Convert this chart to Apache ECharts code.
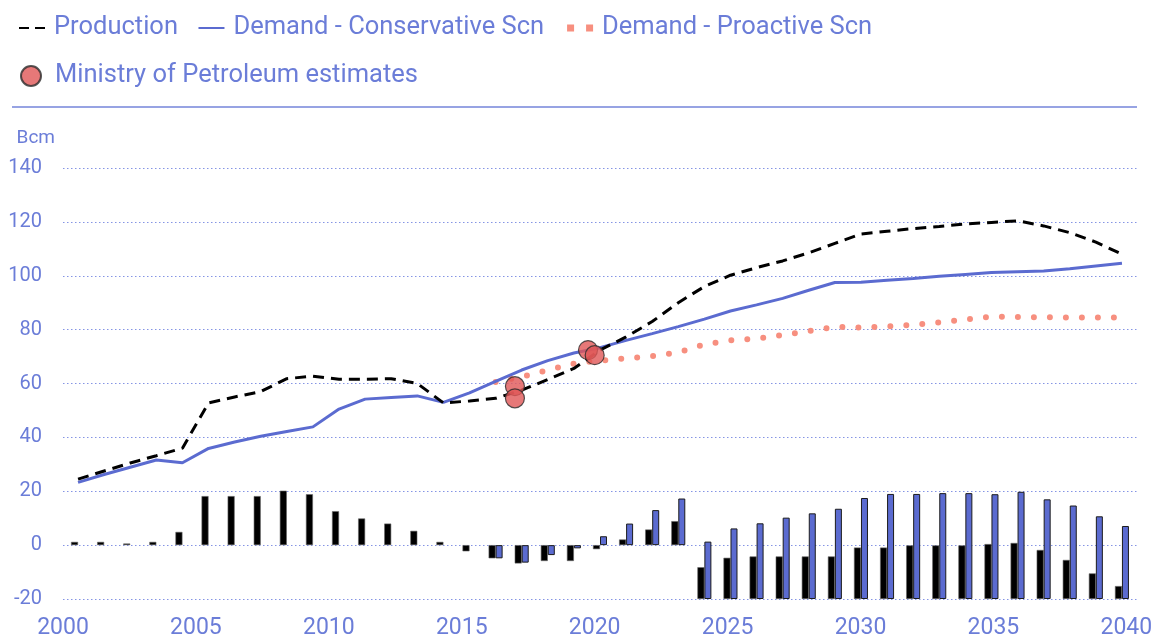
<!DOCTYPE html>
<html>
<head>
<meta charset="utf-8">
<script src="https://cdn.jsdelivr.net/npm/echarts@6.0.0/dist/echarts.min.js"></script>
<style>
  html, body { margin: 0; padding: 0; background: #fff; }
  #chart { width: 1158px; height: 641px; }
</style>
</head>
<body>
<div id="chart"></div>
<script>
// years on the x axis
var years = ['2000','2001','2002','2003','2004','2005','2006','2007','2008','2009',
  '2010','2011','2012','2013','2014','2015','2016','2017','2018','2019',
  '2020','2021','2022','2023','2024','2025','2026','2027','2028','2029',
  '2030','2031','2032','2033','2034','2035','2036','2037','2038','2039','2040']

// Bcm
var production = [24.5, 27.5, 30.5, 33.2, 36, 52.8, 55, 57, 61.8, 62.7,
  61.6, 61.6, 61.8, 60, 52.8, 53.5, 54.5, 57.5, 61.5, 65.6,
  72.4, 77.3, 83, 90, 96, 100.2, 103, 105.5, 108.5, 112,
  115.5, 116.5, 117.5, 118.3, 119.2, 119.8, 120.4, 118.5, 116, 112.5, 108]

var demandConservative = [23.3, 26.2, 28.9, 31.6, 30.6, 35.9, 38.3, 40.4, 42.2, 43.9,
  50.5, 54.2, 54.8, 55.4, 53, 56.5, 60.8, 65, 68.5, 71.3,
  73.3, 76, 78.5, 81.1, 83.9, 86.9, 89.2, 91.6, 94.6, 97.5,
  97.6, 98.3, 99, 99.8, 100.5, 101.2, 101.5, 101.8, 102.6, 103.6, 104.6]

var demandProactive = [null, null, null, null, null, null, null, null, null, null,
  null, null, null, null, null, null, 60.6, 62.5, 65, 67.4,
  68.5, 69.3, 70.2, 71.5, 74.5, 76, 76.6, 78, 79.5, 81,
  80.8, 81.2, 81.8, 82.7, 83.8, 84.8, 84.7, 84.6, 84.5, 84.5, 84.5]

// [year, Bcm]
var ministryEstimates = [[2017, 59.0], [2017, 54.5], [2019.75, 72.4], [2020, 70.5]]

// balance bars, historic part (main axis, zero baseline)
var gapConservativeHist = [1.2, 1.2, 0.6, 1.2, 4.9, 18.2, 18.2, 18.2, 20.2, 18.9,
  12.6, 9.9, 8.0, 5.3, 1.2, -2.3, -4.9, -6.8, -5.9, -5.9,
  -1.5, 2.1, 5.8, 8.9, null, null, null, null, null, null,
  null, null, null, null, null, null, null, null, null, null, null]
var gapProactiveHist = [null, null, null, null, null, null, null, null, null, null,
  null, null, null, null, null, null, -4.9, -6.5, -3.7, -1.2,
  3.3, 8.0, 13.0, 17.3, null, null, null, null, null, null,
  null, null, null, null, null, null, null, null, null, null, null]

// balance bars, outlook part (secondary axis, drawn from the bottom)
var gapConservativeProj = [null, null, null, null, null, null, null, null, null, null,
  null, null, null, null, null, null, null, null, null, null,
  null, null, null, null, 11.8, 15.3, 15.8, 15.8, 15.8, 15.8,
  19.1, 19.1, 19.9, 19.9, 19.9, 20.4, 20.8, 18.2, 14.5, 9.5, 4.8]
var gapProactiveProj = [null, null, null, null, null, null, null, null, null, null,
  null, null, null, null, null, null, null, null, null, null,
  null, null, null, null, 21.3, 26.2, 28.1, 30.2, 31.8, 33.5,
  37.5, 39.0, 39.0, 39.3, 39.3, 38.9, 39.8, 37.0, 34.7, 30.7, 27.1]

var yTicks = {min: -20, max: 140, step: 20}

var textColor = '#6b7dd8'
var gridColor = '#8594e4'
var blue = '#5b6bd0'
var salmon = '#f78f7f'
var font = 'Roboto'

var chart = echarts.init(document.getElementById('chart'))

var hiddenCat = function() {
  return {gridIndex: 1, type: 'category', data: years, boundaryGap: true, show: false}
}
var hiddenVal = function(min, max) {
  return {gridIndex: 1, type: 'value', min: min, max: max, show: false, splitLine: {show: false}}
}

chart.setOption({
  animation: false,
  textStyle: {fontFamily: font},
  legend: [{
    left: 13, top: 10,
    itemWidth: 26, itemHeight: 14, itemGap: 19.5,
    itemStyle: {opacity: 0},
    textStyle: {color: textColor, fontSize: 25.5, fontFamily: font, padding: [0, 0, 0, 4]},
    data: [
      {name: 'Production', lineStyle: {type: [10, 6]}},
      'Demand - Conservative Scn',
      {name: 'Demand - Proactive Scn', lineStyle: {width: 7, type: [7, 12], cap: 'butt'}}
    ]
  }, {
    left: 15, top: 58,
    itemWidth: 20, itemHeight: 20,
    textStyle: {color: textColor, fontSize: 25.5, fontFamily: font, padding: [0, 0, 0, 9]},
    data: ['Ministry of Petroleum estimates']
  }],
  graphic: [{
    type: 'line', z: 10,
    shape: {x1: 12, y1: 107, x2: 1137, y2: 107},
    style: {stroke: '#7485da', lineWidth: 1.5}
  }],
  grid: [
    {left: 63, right: 21, top: 168, bottom: 42},
    {left: 65, right: 23, top: 168, bottom: 42}
  ],
  xAxis: [{
    gridIndex: 0, type: 'value', min: 2000, max: 2040.4, interval: 5,
    axisLine: {show: false}, axisTick: {show: false}, splitLine: {show: false},
    axisLabel: {color: textColor, fontSize: 23, margin: 18, showMaxLabel: false,
      formatter: function(v) { return v % 5 === 0 ? String(v) : '' }}
  }, hiddenCat(), hiddenCat()],
  yAxis: [{
    gridIndex: 0, type: 'value', min: yTicks.min, max: yTicks.max, interval: yTicks.step,
    name: 'Bcm', nameLocation: 'end', nameGap: 20,
    nameTextStyle: {color: textColor, fontSize: 19, align: 'right', padding: [0, 8, 0, 0]},
    axisLine: {show: false}, axisTick: {show: false},
    axisLabel: {color: textColor, fontSize: 20, margin: 21, padding: [0, 0, 8, 0]},
    splitLine: {lineStyle: {color: gridColor, width: 1, type: [1.5, 2.5]}}
  }, hiddenVal(yTicks.min, yTicks.max), hiddenVal(0, 160)],
  series: [{
    name: 'Gap conservative', type: 'bar', xAxisIndex: 1, yAxisIndex: 1,
    barWidth: 7, barGap: '0%', z: 2,
    itemStyle: {color: '#000', borderColor: '#666', borderWidth: 0.6},
    data: gapConservativeHist
  }, {
    name: 'Gap proactive', type: 'bar', xAxisIndex: 1, yAxisIndex: 1,
    barWidth: 7, barGap: '0%', z: 2,
    itemStyle: {color: blue, borderColor: '#1c1c1c', borderWidth: 1},
    data: gapProactiveHist
  }, {
    name: 'Gap conservative outlook', type: 'bar', xAxisIndex: 2, yAxisIndex: 2,
    barWidth: 7, barGap: '0%', z: 2,
    itemStyle: {color: '#000', borderColor: '#666', borderWidth: 0.6},
    data: gapConservativeProj
  }, {
    name: 'Gap proactive outlook', type: 'bar', xAxisIndex: 2, yAxisIndex: 2,
    barWidth: 7, barGap: '0%', z: 2,
    itemStyle: {color: blue, borderColor: '#1c1c1c', borderWidth: 1},
    data: gapProactiveProj
  }, {
    name: 'Demand - Proactive Scn', type: 'line', xAxisIndex: 1, yAxisIndex: 1,
    symbol: 'none', z: 4,
    itemStyle: {color: salmon},
    lineStyle: {color: salmon, width: 6, type: [0, 16], cap: 'round'},
    data: demandProactive
  }, {
    name: 'Demand - Conservative Scn', type: 'line', xAxisIndex: 1, yAxisIndex: 1,
    symbol: 'none', z: 5,
    itemStyle: {color: blue},
    lineStyle: {color: blue, width: 3},
    data: demandConservative
  }, {
    name: 'Production', type: 'line', xAxisIndex: 1, yAxisIndex: 1,
    symbol: 'none', z: 6,
    itemStyle: {color: '#000'},
    lineStyle: {color: '#000', width: 3, type: [11, 7]},
    data: production
  }, {
    name: 'Ministry of Petroleum estimates', type: 'scatter', xAxisIndex: 0, yAxisIndex: 0,
    symbolSize: 19, z: 8,
    itemStyle: {color: '#e05656', borderColor: '#2a2a2a', borderWidth: 1.2},
    data: ministryEstimates
  }]
})
</script>
</body>
</html>
